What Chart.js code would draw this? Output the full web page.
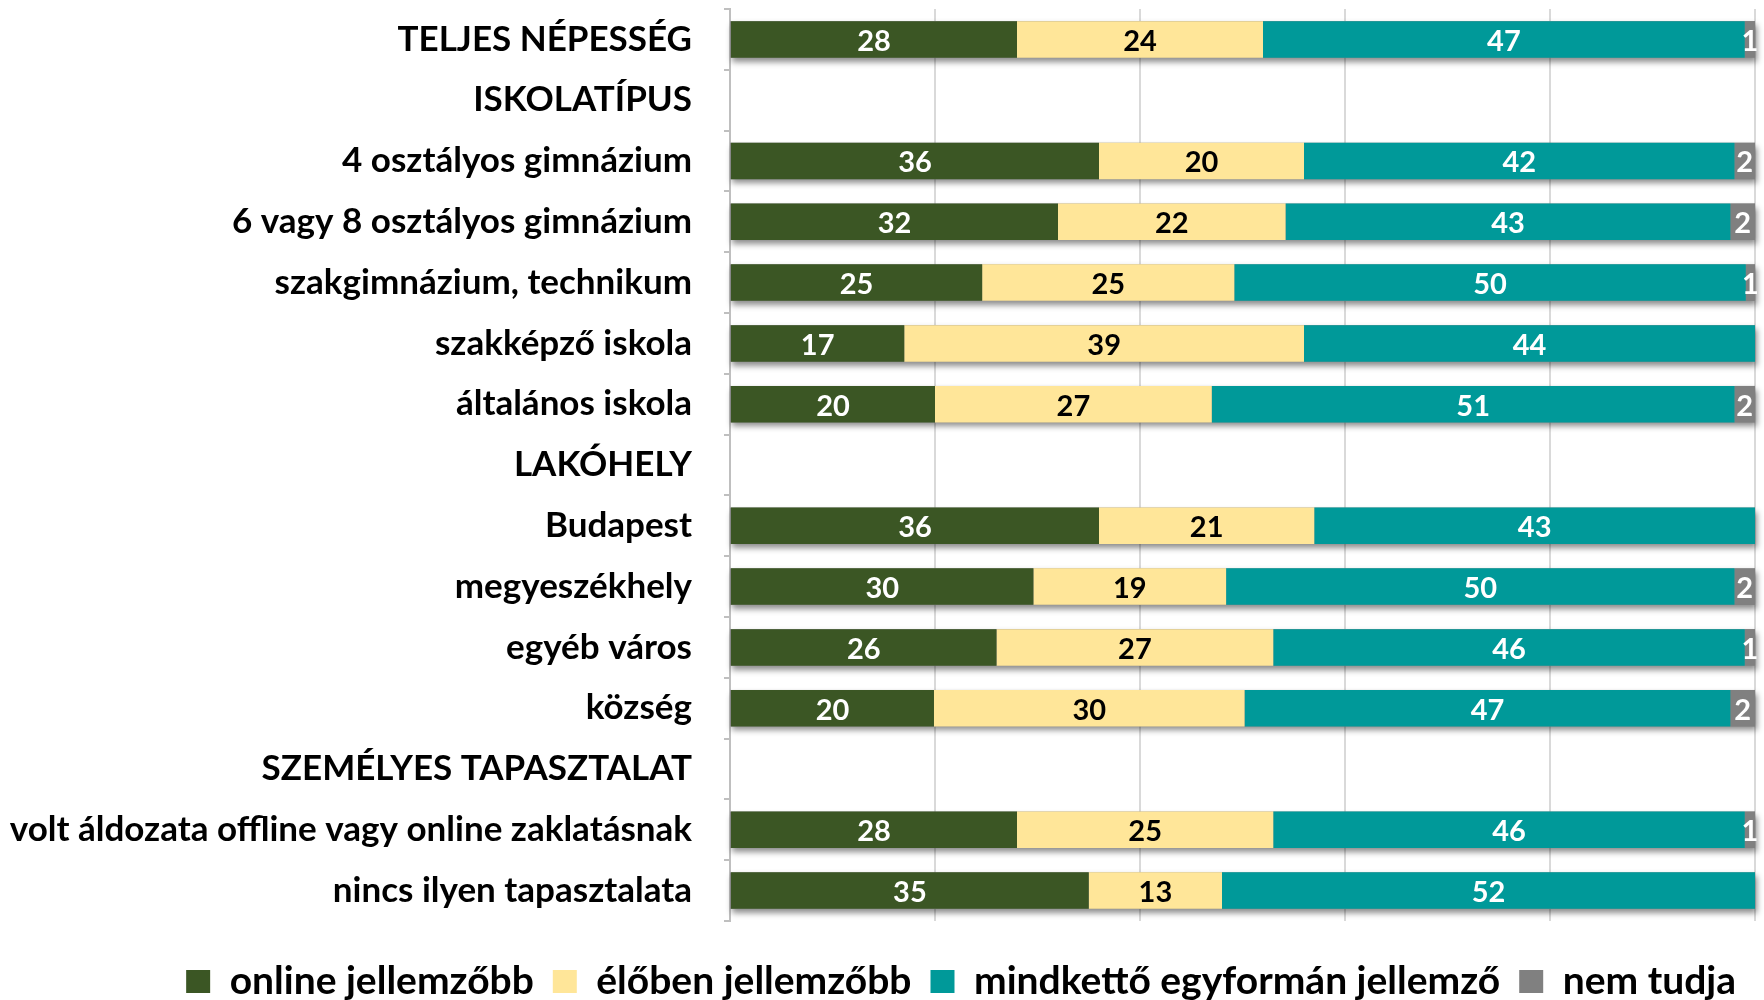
<!DOCTYPE html>
<html>
<head>
<meta charset="utf-8">
<script src="https://cdn.jsdelivr.net/npm/chart.js@4"></script>
<style>
  body { margin: 0; background: #fff; }
</style>
</head>
<body>
<canvas id="chart" width="1764" height="1000"></canvas>
<script>
// categories (section headers have no data)
const categories = [
  "TELJES NÉPESSÉG",
  "ISKOLATÍPUS",
  "4 osztályos gimnázium",
  "6 vagy 8 osztályos gimnázium",
  "szakgimnázium, technikum",
  "szakképző iskola",
  "általános iskola",
  "LAKÓHELY",
  "Budapest",
  "megyeszékhely",
  "egyéb város",
  "község",
  "SZEMÉLYES TAPASZTALAT",
  "volt áldozata offline vagy online zaklatásnak",
  "nincs ilyen tapasztalata"
];

// percentages; labels show them rounded
const online    = [28, null, 36, 32, 24.6, 17, 20, null, 36, 29.6, 26, 19.9, null, 28, 35];
const elobben   = [24, null, 20, 22.2, 24.6, 39, 27, null, 21, 18.8, 27, 30.3, null, 25, 13];
const mindketto = [47, null, 42, 43.4, 49.9, 44, 51, null, 43, 49.6, 46, 47.4, null, 46, 52];
const nemTudja  = [1, null, 2, 2.4, 0.9, null, 2, null, null, 2, 1, 2.4, null, 1, null];

const xTicks = [0, 20, 40, 60, 80, 100];

const FONT = "Lato, Carlito, 'Open Sans', sans-serif";
const labelColors = ["#ffffff", "#000000", "#ffffff", "#ffffff"];

// soft drop shadow behind each whole stacked bar
const barShadow = {
  id: "barShadow",
  beforeDatasetsDraw(chart) {
    const ctx = chart.ctx;
    const xs = chart.scales.x;
    const meta0 = chart.getDatasetMeta(0);
    ctx.save();
    ctx.shadowColor = "rgba(0,0,0,0.45)";
    ctx.shadowBlur = 6;
    ctx.shadowOffsetX = 2;
    ctx.shadowOffsetY = 4;
    ctx.fillStyle = "#888";
    meta0.data.forEach((bar, j) => {
      let sum = 0;
      chart.data.datasets.forEach(ds => { sum += ds.data[j] || 0; });
      if (!sum) return;
      const p = bar.getProps(["y", "height"], true);
      const x0 = xs.getPixelForValue(0);
      const x1 = Math.min(xs.getPixelForValue(sum), xs.right);
      ctx.fillRect(x0, p.y - p.height / 2, x1 - x0, p.height);
    });
    ctx.restore();
  }
};

// value labels centered in each segment
const valueLabels = {
  id: "valueLabels",
  afterDatasetsDraw(chart) {
    const ctx = chart.ctx;
    ctx.save();
    ctx.font = "bold 29px " + FONT;
    ctx.textAlign = "center";
    ctx.textBaseline = "middle";
    chart.data.datasets.forEach((ds, i) => {
      const meta = chart.getDatasetMeta(i);
      meta.data.forEach((bar, j) => {
        const v = ds.data[j];
        if (v == null) return;
        const p = bar.getProps(["x", "y", "base"], true);
        ctx.fillStyle = labelColors[i];
        ctx.fillText(String(Math.round(v)), (p.x + p.base) / 2, p.y + 2);
      });
    });
    ctx.restore();
  }
};

new Chart(document.getElementById("chart").getContext("2d"), {
  type: "bar",
  data: {
    labels: categories,
    datasets: [
      { label: "online jellemzőbb", data: online, backgroundColor: "#3b5624" },
      { label: "élőben jellemzőbb", data: elobben, backgroundColor: "#ffe699" },
      { label: "mindkettő egyformán jellemző", data: mindketto, backgroundColor: "#009999" },
      { label: "nem tudja", data: nemTudja, backgroundColor: "#808080" }
    ]
  },
  options: {
    responsive: false,
    animation: false,
    indexAxis: "y",
    layout: { padding: { top: 9, right: 9, left: 0, bottom: -11 } },
    datasets: {
      bar: { barPercentage: 0.6, categoryPercentage: 1, borderWidth: 0 }
    },
    scales: {
      x: {
        stacked: true,
        min: 0,
        max: 100,
        afterBuildTicks: s => { s.ticks = xTicks.map(v => ({ value: v })); },
        afterFit: s => { s.height = 22; },
        ticks: { display: false },
        grid: { color: "#d9d9d9", lineWidth: 2, drawTicks: false },
        border: { display: false }
      },
      y: {
        stacked: true,
        afterFit: s => { s.width = 730; s.paddingTop = 0; s.paddingBottom = 0; },
        ticks: {
          color: "#000",
          padding: 32,
          font: { family: FONT, size: 35, weight: "bold" }
        },
        grid: { drawOnChartArea: false, color: "#bfbfbf", tickLength: 6, lineWidth: 2 },
        border: { color: "#bfbfbf", width: 2 }
      }
    },
    plugins: {
      tooltip: { enabled: false },
      legend: {
        position: "bottom",
        align: "end",
        labels: {
          color: "#000",
          font: { family: FONT, size: 39, weight: "bold" },
          boxWidth: 24,
          boxHeight: 23,
          padding: 19
        }
      }
    }
  },
  plugins: [barShadow, valueLabels]
});
</script>
</body>
</html>
